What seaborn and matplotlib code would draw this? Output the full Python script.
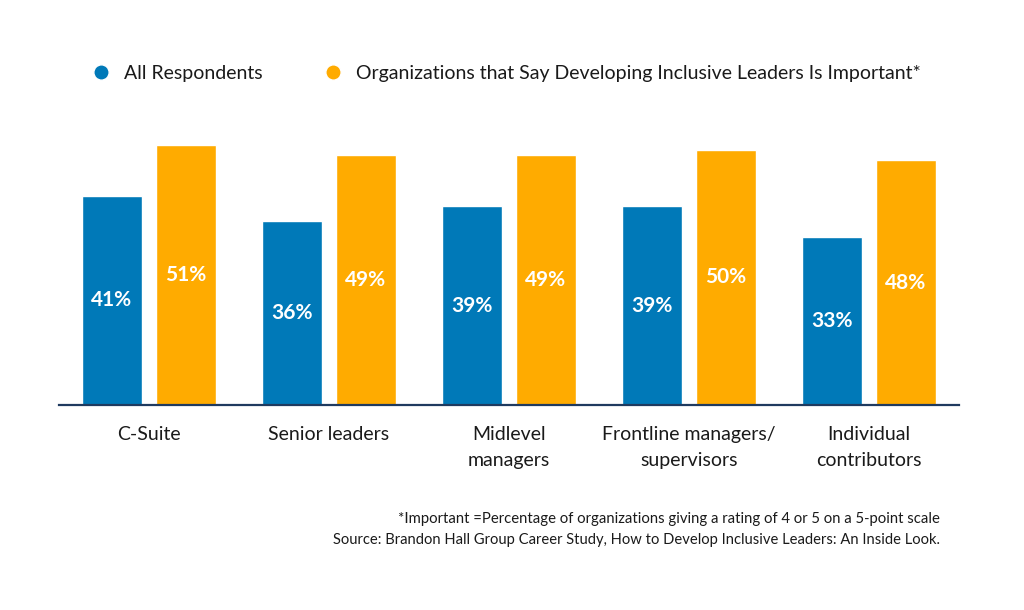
import numpy as np
import pandas as pd
import matplotlib
matplotlib.use("Agg")
import matplotlib.pyplot as plt
from matplotlib.lines import Line2D
import seaborn as sns

# ============================
# Data
# ============================
categories = ["C-Suite", "Senior leaders", "Midlevel\nmanagers",
              "Frontline managers/\nsupervisors", "Individual\ncontributors"]
all_respondents = [41, 36, 39, 39, 33]
important_orgs = [51, 49, 49, 50, 48]
series_names = ["All Respondents",
                "Organizations that Say Developing Inclusive Leaders Is Important*"]
colors = ["#0079b8", "#ffab00"]

df = pd.DataFrame({
    "category": categories * 2,
    "value": all_respondents + important_orgs,
    "group": [series_names[0]] * len(categories) + [series_names[1]] * len(categories),
})

# ============================
# Plot
# ============================
sns.set_style("white")
plt.rcParams["font.family"] = ["Lato", "DejaVu Sans"]

fig = plt.figure(figsize=(10.24, 6.10), dpi=100)
ax = fig.add_axes([59 / 1024, 205 / 610, 900 / 1024, 275 / 610])

sns.barplot(data=df, x="category", y="value", hue="group",
            palette=colors, width=0.822, gap=0.19, legend=False,
            saturation=1, ax=ax)

for cont, vals in zip(ax.containers, [all_respondents, important_orgs]):
    ax.bar_label(cont, labels=[f"{v}%" for v in vals], label_type="center",
                 color="white", fontsize=15, fontweight="bold")

ax.set_ylim(0, 53.9)
ax.set_xlim(-0.5, len(categories) - 0.5)
ax.set_xlabel("")
ax.set_ylabel("")
ax.set_yticks([])
ax.set_xticks(range(len(categories)), categories, linespacing=1.65)
ax.tick_params(axis="x", length=0, pad=15, labelsize=14, colors="#1a1a1a")
for s in ["top", "right", "left"]:
    ax.spines[s].set_visible(False)
ax.spines["bottom"].set_color("#1f3a5f")
ax.spines["bottom"].set_linewidth(1.6)

# legend
handles = [Line2D([0], [0], marker="o", color="w", markerfacecolor=c,
                  markersize=11, linewidth=0) for c in colors]
fig.legend(handles, series_names, loc="center left",
           bbox_to_anchor=(91 / 1024, 1 - 73 / 610), ncol=2, frameon=False,
           fontsize=14, handlelength=1.0, handletextpad=0.7, columnspacing=3.1,
           borderpad=0, borderaxespad=0, labelcolor="#1a1a1a")

# footnote
fig.text(940 / 1024, 1 - 519 / 610,
         "*Important =Percentage of organizations giving a rating of 4 or 5 on a 5-point scale",
         ha="right", va="center", fontsize=10.7, color="#1a1a1a")
fig.text(940 / 1024, 1 - 540 / 610,
         "Source: Brandon Hall Group Career Study, How to Develop Inclusive Leaders: An Inside Look.",
         ha="right", va="center", fontsize=10.6, color="#1a1a1a")

fig.savefig("out.png", dpi=100)
